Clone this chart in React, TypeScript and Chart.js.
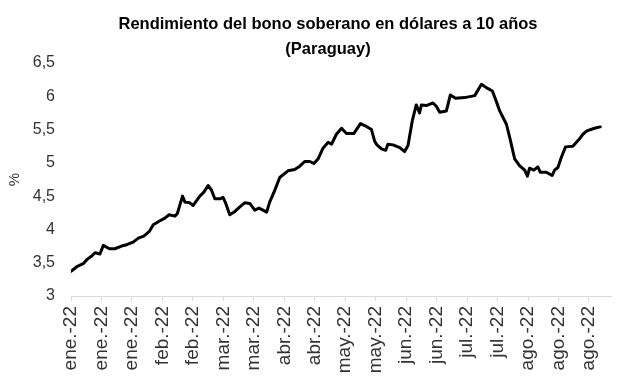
import React, { useEffect, useRef } from "react";
import Chart from "chart.js/auto";

// Title lines
const titleLines = ["Rendimiento del bono soberano en dólares a 10 años", "(Paraguay)"];

// Category tick labels (one every 10 trading days)
const tickLabels = [
  "ene.-22", "ene.-22", "ene.-22", "feb.-22", "feb.-22", "mar.-22", "mar.-22",
  "abr.-22", "abr.-22", "may.-22", "may.-22", "jun.-22", "jun.-22",
  "jul.-22", "jul.-22", "ago.-22", "ago.-22", "ago.-22",
];
const tickStep = 10;

// Series positions (trading-day index) and yields (%)
const dayIndex = [
  0, 1.9, 4.0, 5.3, 6.8, 7.9, 9.5, 10.6, 12.6, 14.4, 16.6, 18.3, 20.4, 22.1, 23.9, 25.7, 27.0, 29.2, 30.8, 32.2,
  34.1, 34.9, 36.6, 37.4, 39.0, 40.1, 42.1, 43.6, 45.0, 46.1, 47.2, 48.9, 49.9, 50.8, 52.1, 53.8, 55.4, 57.0, 58.7, 60.3,
  61.7, 63.0, 64.2, 65.2, 66.9, 68.5, 71.2, 73.4, 75.1, 76.7, 78.4, 79.7, 81.1, 82.7, 84.4, 85.5, 87.1, 88.8, 90.4, 92.8,
  95.0, 96.4, 98.6, 99.7, 100.4, 101.9, 103.3, 104.0, 105.7, 107.9, 109.5, 110.6, 112.0, 113.3, 114.4, 115.0, 116.6, 118.8, 119.9, 121.0,
  123.2, 124.5, 126.2, 129.2, 132.5, 134.7, 136.3, 138.3, 139.6, 140.7, 142.9, 144.0, 145.0, 145.6, 147.2, 148.9, 149.8, 150.5, 151.9, 153.2,
  154.0, 156.0, 157.9, 158.7, 159.8, 160.9, 162.3, 164.7, 166.7, 168.0, 169.3, 171.8, 173.7,
];
const yieldPct = [
  3.37, 3.44, 3.485, 3.55, 3.60, 3.65, 3.63, 3.76, 3.71, 3.71, 3.75, 3.77, 3.81, 3.87, 3.90, 3.97, 4.07, 4.13, 4.17, 4.22,
  4.20, 4.24, 4.50, 4.41, 4.40, 4.36, 4.49, 4.56, 4.66, 4.59, 4.46, 4.46, 4.48, 4.39, 4.22, 4.27, 4.34, 4.40, 4.39, 4.29,
  4.32, 4.29, 4.26, 4.41, 4.59, 4.78, 4.88, 4.90, 4.95, 5.02, 5.02, 4.99, 5.06, 5.22, 5.31, 5.28, 5.43, 5.52, 5.44, 5.44,
  5.59, 5.56, 5.50, 5.32, 5.27, 5.21, 5.19, 5.28, 5.27, 5.23, 5.17, 5.26, 5.63, 5.87, 5.75, 5.87, 5.86, 5.90, 5.85, 5.76,
  5.78, 6.02, 5.97, 5.98, 6.01, 6.18, 6.13, 6.08, 5.92, 5.78, 5.58, 5.38, 5.18, 5.06, 4.96, 4.89, 4.80, 4.92, 4.89, 4.94,
  4.86, 4.86, 4.81, 4.89, 4.93, 5.08, 5.24, 5.25, 5.35, 5.43, 5.48, 5.52, 5.54,
];

const FONT = "'Liberation Sans', Arial, sans-serif";

export default function App() {
  const ref = useRef<HTMLCanvasElement | null>(null);

  useEffect(() => {
    if (!ref.current) return;
    const points = dayIndex.map((x, i) => ({ x, y: yieldPct[i] }));
    const chart = new Chart(ref.current, {
      type: "line",
      data: {
        datasets: [
          {
            data: points,
            yAxisID: "y",
            borderColor: "#000000",
            borderWidth: 3,
            pointRadius: 0,
            tension: 0,
            borderJoinStyle: "round",
            borderCapStyle: "round",
            fill: false,
          },
        ],
      },
      options: {
        animation: false,
        responsive: false,
        devicePixelRatio: 1,
        layout: { padding: { left: 0, right: -39, top: 0, bottom: 0 } },
        plugins: {
          legend: { display: false },
          tooltip: { enabled: false },
          title: {
            display: true,
            text: titleLines,
            color: "#000000",
            font: { family: FONT, size: 16.5, weight: "bold", lineHeight: 1.5 },
            padding: { top: 12, bottom: 1.5 },
          },
        },
        scales: {
          x: {
            type: "linear",
            min: 0,
            max: 177.5,
            afterBuildTicks: (scale: any) => {
              scale.ticks = tickLabels.map((_, i) => ({ value: i * tickStep }));
            },
            afterFit: (scale: any) => {
              scale.height = 89;
            },
            grid: {
              display: true,
              drawOnChartArea: false,
              drawTicks: true,
              tickLength: 5,
              color: "#d9d9d9",
              lineWidth: 1,
            },
            border: { display: true, color: "#d9d9d9", width: 1 },
            ticks: {
              autoSkip: false,
              minRotation: 90,
              maxRotation: 90,
              padding: 5,
              color: "#333333",
              font: { family: FONT, size: 19 },
              callback: (value: any) => {
                const i = Math.round(Number(value) / tickStep);
                return tickLabels[i] ?? "";
              },
            },
          },
          y: {
            position: "left",
            min: 3,
            max: 6.5,
            afterFit: (scale: any) => {
              scale.width = 71;
            },
            grid: { display: false, drawTicks: false },
            border: { display: false },
            title: {
              display: true,
              text: "%",
              color: "#333333",
              font: { family: FONT, size: 15, lineHeight: 1.2 },
              padding: { top: 6, bottom: 0 },
            },
            ticks: {
              stepSize: 0.5,
              padding: 16,
              color: "#333333",
              font: { family: FONT, size: 16 },
              callback: (value: any) => String(value).replace(".", ","),
            },
          },
          yRight: {
            position: "right",
            min: 3,
            max: 6.5,
            afterFit: (scale: any) => {
              scale.width = 44;
            },
            grid: { display: false, drawTicks: false },
            border: { display: false },
            ticks: { display: false },
          },
        },
      },
    });
    return () => chart.destroy();
  }, []);

  return (
    <div style={{ position: "fixed", left: 0, top: 0, width: 617, height: 385, background: "#fff" }}>
      <canvas ref={ref} width={617} height={385} style={{ display: "block", width: 617, height: 385 }} />
    </div>
  );
}
